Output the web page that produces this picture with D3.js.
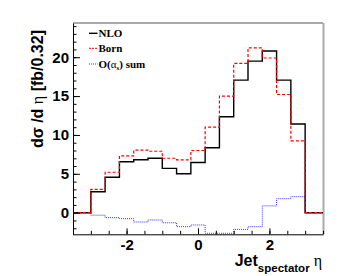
<!DOCTYPE html>
<html>
<head>
<meta charset="utf-8">
<script src="https://cdn.jsdelivr.net/npm/d3@7"></script>
<style>
  body { margin: 0; background: #fff; }
  svg { display: block; }
  .tick text { font-family: "Liberation Sans", Arial, sans-serif; font-weight: bold; font-size: 15px; fill: #000; }
</style>
</head>
<body>
<svg id="chart" width="349" height="276"></svg>
<script>
// bin edges in eta (outer bins are empty)
var edges = [-3.5, -3.0, -2.6, -2.2, -1.8, -1.4, -1.0, -0.6, -0.2, 0.2, 0.6, 1.0, 1.4, 1.8, 2.2, 2.6, 3.0, 3.5];
var nlo  = [0, 2.7, 4.55, 6.55, 6.8, 7.0, 5.7, 5.0, 6.45, 8.35, 12.35, 17.05, 19.5, 20.8, 17.05, 11.4, 0];
var born = [0, 3.0, 5.2, 7.3, 8.05, 7.9, 7.0, 6.8, 8.0, 11.0, 15.0, 19.2, 21.2, 19.9, 15.2, 9.25, 0];
var osum = [0, -0.32, -0.64, -0.77, -1.2, -0.94, -1.3, -1.8, -1.58, -2.65, -2.65, -2.15, -1.8, 0.88, 1.8, 2.06, 0];
var xTicks = [-2, 0, 2];
var yTicks = [0, 5, 10, 15, 20];

(function () {
    var svg = d3.select("#chart"),
        fLeft = 73, fRight = 323, fTop = 23, fBottom = 234.3;

    var x = d3.scaleLinear().domain([-3.5, 3.5]).range([fLeft, fRight]),
        y = d3.scaleLinear().domain([-2.78, 24.4]).range([fBottom, fTop]);

    // frame
    svg.append("line").attr("x1", fLeft).attr("x2", fRight).attr("y1", fTop).attr("y2", fTop)
        .attr("stroke", "#555").attr("stroke-width", 1);
    svg.append("line").attr("x1", fRight + 0.5).attr("x2", fRight + 0.5).attr("y1", fTop).attr("y2", fBottom)
        .attr("stroke", "#aaa").attr("stroke-width", 2);

    function stepPoints(vals) {
        var pts = vals.map(function (v, i) { return [edges[i], v]; });
        pts.push([edges[edges.length - 1], vals[vals.length - 1]]);
        return pts;
    }
    var line = d3.line()
        .x(function (d) { return x(d[0]); })
        .y(function (d) { return y(d[1]); })
        .curve(d3.curveStepAfter);

    svg.append("path").attr("d", line(stepPoints(osum)))
        .attr("fill", "none").attr("stroke", "#3333ff").attr("stroke-width", 1)
        .attr("stroke-dasharray", "1,1");
    svg.append("path").attr("d", line(stepPoints(nlo)))
        .attr("fill", "none").attr("stroke", "#000").attr("stroke-width", 1.4);
    svg.append("path").attr("d", line(stepPoints(born)))
        .attr("fill", "none").attr("stroke", "#ff0000").attr("stroke-width", 1.2)
        .attr("stroke-dasharray", "3,2");

    // axes (ticks point inward, ROOT style)
    svg.append("g").attr("transform", "translate(" + fLeft + ",0)")
        .call(d3.axisLeft(y).tickValues(d3.range(-2, 25, 1)).tickSize(-3.5).tickFormat(""))
        .call(function (g) { g.select(".domain").remove(); });
    svg.append("g").attr("transform", "translate(" + fLeft + ",0)")
        .call(d3.axisLeft(y).tickValues(yTicks).tickSizeInner(-7).tickSizeOuter(0).tickPadding(4))
        .call(function (g) { g.select(".domain").attr("stroke", "#000"); });

    svg.append("g").attr("transform", "translate(0," + fBottom + ")")
        .call(d3.axisBottom(x).tickValues(d3.range(-3.5, 3.51, 0.5)).tickSize(-3.5).tickFormat(""))
        .call(function (g) { g.select(".domain").remove(); });
    svg.append("g").attr("transform", "translate(0," + fBottom + ")")
        .call(d3.axisBottom(x).tickValues(xTicks).tickSizeInner(-6).tickSizeOuter(0).tickPadding(5)
            .tickFormat(function (d) { return d; }))
        .call(function (g) { g.select(".domain").attr("stroke", "#000"); });

    svg.selectAll(".tick line").attr("stroke", "#000");

    // axis titles
    var yt = svg.append("text")
        .attr("transform", "translate(43,30) rotate(-90)")
        .attr("text-anchor", "end")
        .style("font-family", "Liberation Sans, Arial, sans-serif")
        .style("font-weight", "bold").style("font-size", "16px");
    yt.append("tspan").text("dσ /d ");
    yt.append("tspan").style("font-family", "Liberation Serif, serif").style("font-weight", "normal").text("η");
    yt.append("tspan").text("  [fb/0.32]");

    var xt = svg.append("text")
        .attr("x", 322).attr("y", 265.5)
        .attr("text-anchor", "end")
        .style("font-family", "Liberation Sans, Arial, sans-serif")
        .style("font-weight", "bold").style("font-size", "16px");
    xt.append("tspan").text("Jet");
    xt.append("tspan").attr("dy", 6).style("font-size", "11.5px").text("spectator");
    xt.append("tspan").attr("dy", -6).style("font-family", "Liberation Serif, serif")
        .style("font-weight", "normal").text(" η");

    // legend
    var legend = [
        {label: "NLO", color: "#000", dash: null, w: 1.4},
        {label: "Born", color: "#ff0000", dash: "2,1", w: 1},
        {label: "O(α", color: "#3333ff", dash: "1,1", w: 1}
    ];
    var legY = [33.3, 48.3, 64];
    legend.forEach(function (d, i) {
        svg.append("line").attr("x1", 89).attr("x2", 97.5).attr("y1", legY[i]).attr("y2", legY[i])
            .attr("stroke", d.color).attr("stroke-width", d.w)
            .attr("stroke-dasharray", d.dash);
        var t = svg.append("text").attr("x", 98.5).attr("y", legY[i] + 4)
            .style("font-family", "Liberation Serif, Times New Roman, serif")
            .style("font-weight", "bold").style("font-size", "11px");
        if (i < 2) {
            t.text(d.label);
        } else {
            t.append("tspan").text("O(");
            t.append("tspan").style("font-weight", "normal").text("α");
            t.append("tspan").attr("dy", 2).style("font-size", "7px").text("s");
            t.append("tspan").attr("dy", -2).text(") sum");
        }
    });
})();
</script>
</body>
</html>
